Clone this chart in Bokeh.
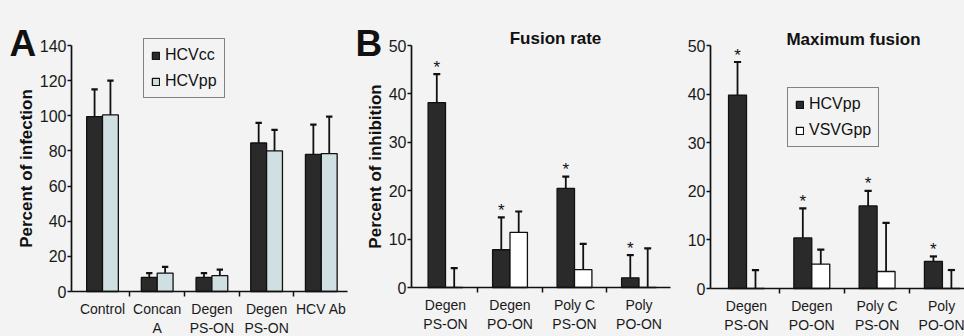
from bokeh.plotting import figure
from bokeh.layouts import row
from bokeh.models import FixedTicker, Legend, LegendItem, Label, Range1d
from bokeh.embed import file_html
from bokeh.resources import INLINE
from bokeh.core.properties import value

# ---------------- data ----------------
# Panel A: percent of infection
a_categories = ["Control", "Concan\nA", "Degen\nPS-ON", "Degen\nPS-ON", "HCV Ab"]
a_hcvcc = [99.5, 8.0, 8.0, 84.5, 78.0]
a_hcvcc_err = [115.0, 10.5, 10.5, 96.0, 95.0]
a_hcvpp = [100.5, 10.5, 9.0, 80.0, 78.5]
a_hcvpp_err = [120.0, 14.0, 12.5, 92.0, 99.5]
a_yticks = [0, 20, 40, 60, 80, 100, 120, 140]

# Panels B and C: percent of inhibition
bc_categories = ["Degen\nPS-ON", "Degen\nPO-ON", "Poly C\nPS-ON", "Poly\nPO-ON"]
b_hcvpp = [38.2, 7.8, 20.5, 2.0]
b_hcvpp_err = [44.1, 14.5, 22.9, 6.7]
b_vsvg = [0.0, 11.4, 3.7, 0.0]
b_vsvg_err = [4.0, 15.7, 9.0, 8.1]
b_stars = [True, True, True, True]

c_hcvpp = [39.8, 10.4, 17.0, 5.6]
c_hcvpp_err = [46.6, 16.5, 20.1, 6.6]
c_vsvg = [0.0, 5.0, 3.5, 0.0]
c_vsvg_err = [3.8, 8.0, 13.5, 3.8]
c_stars = [True, True, True, True]
bc_yticks = [0, 10, 20, 30, 40, 50]

FONT = "Liberation Sans"
BG = "#f3f3f3"
INK = "#111111"
DARK = "#2a2a2a"
LIGHT = "#cfdfe2"
WHITE = "#ffffff"
H = 336


def make_panel(width, geom, ymax, yticks, categories, series, bar_w,
               ylabel=None, ylabel_standoff=4, stars=None, star_series=0):
    axis_px, c0_px, step_px, y0_px, ytop_px, xend_px = geom
    k = (y0_px - ytop_px) / ymax
    xr = Range1d(-c0_px / step_px, (width - c0_px) / step_px)
    yr = Range1d(-(H - y0_px) / k, y0_px / k)
    yaxis_loc = (axis_px - c0_px) / step_px
    xaxis_end = (xend_px - c0_px) / step_px

    p = figure(width=width, height=H, x_range=xr, y_range=yr,
               output_backend="svg", toolbar_location=None,
               min_border_left=0, min_border_right=0,
               min_border_top=0, min_border_bottom=0)
    p.background_fill_color = BG
    p.border_fill_color = BG
    p.outline_line_color = None
    p.xgrid.visible = False
    p.ygrid.visible = False

    n = len(categories)
    centers = list(range(n))
    renderers = []
    ns = len(series)
    for kk, (vals, errs, color) in enumerate(series):
        xs = [c + (kk - (ns - 1) / 2) * bar_w for c in centers]
        r = p.vbar(x=xs, top=vals, bottom=0, width=bar_w, fill_color=color,
                   line_color=INK, line_width=1.3)
        renderers.append(r)
        cap = bar_w * 0.2
        p.segment(x0=xs, y0=vals, x1=xs, y1=errs, line_color=INK,
                  line_width=1.8)
        p.segment(x0=[x - cap for x in xs], y0=errs,
                  x1=[x + cap for x in xs], y1=errs,
                  line_color=INK, line_width=2.2)
        if stars is not None and kk == star_series:
            sx = [x for x, s in zip(xs, stars) if s]
            sy = [e for e, s in zip(errs, stars) if s]
            p.text(x=sx, y=sy, text=["*"] * len(sx), text_align="center",
                   text_baseline="alphabetic", y_offset=-7,
                   text_font=value(FONT), text_font_size="17px",
                   text_color=INK)

    # x axis (drawn at y = 0)
    xa = p.xaxis[0]
    xa.fixed_location = 0
    xa.bounds = (yaxis_loc, xaxis_end)
    xa.ticker = FixedTicker(ticks=centers,
                            minor_ticks=[c + 0.5 for c in centers[:-1]])
    xa.major_label_overrides = {i: categories[i] for i in centers}
    xa.major_tick_out = 0
    xa.major_tick_in = 0
    xa.minor_tick_out = 5
    xa.minor_tick_in = 0
    xa.minor_tick_line_color = INK
    xa.minor_tick_line_width = 1.5
    xa.axis_line_color = INK
    xa.axis_line_width = 1.7
    xa.major_label_text_font = FONT
    xa.major_label_text_font_size = "14px"
    xa.major_label_text_color = "#1a1a1a"
    xa.major_label_standoff = 4

    # y axis
    ya = p.yaxis[0]
    ya.fixed_location = yaxis_loc
    ya.bounds = (0, ymax)
    ya.ticker = FixedTicker(ticks=yticks)
    ya.minor_tick_line_color = None
    ya.major_tick_out = 4
    ya.major_tick_in = 0
    ya.major_tick_line_color = INK
    ya.major_tick_line_width = 1.5
    ya.axis_line_color = INK
    ya.axis_line_width = 1.7
    ya.major_label_text_font = FONT
    ya.major_label_text_font_size = "16px"
    ya.major_label_text_color = "#1a1a1a"
    ya.major_label_standoff = 1
    if ylabel:
        ya.axis_label = ylabel
        ya.axis_label_text_font = FONT
        ya.axis_label_text_font_size = "17px"
        ya.axis_label_text_font_style = "bold"
        ya.axis_label_text_color = INK
        ya.axis_label_standoff = ylabel_standoff
    return p, renderers


def add_legend(p, renderers, labels, left_px, bottom_px):
    items = [LegendItem(label=l, renderers=[r]) for l, r in zip(labels, renderers)]
    lg = Legend(items=items, location=(left_px, H - bottom_px))
    lg.label_text_font = FONT
    lg.label_text_font_size = "16px"
    lg.label_text_color = INK
    lg.glyph_width = 9
    lg.glyph_height = 9
    lg.label_height = 18
    lg.label_standoff = 5
    lg.spacing = 8
    lg.padding = 7
    lg.margin = 0
    lg.border_line_color = INK
    lg.border_line_width = 1.4
    lg.background_fill_color = BG
    lg.background_fill_alpha = 1.0
    p.add_layout(lg, "center")


def add_text(p, x_px, baseline_px, text, size, align="left"):
    p.add_layout(Label(x=x_px, y=H - baseline_px, x_units="screen",
                       y_units="screen", text=text, text_font=FONT,
                       text_font_size=size, text_font_style="bold",
                       text_align=align, text_baseline="alphabetic",
                       text_color=INK))


# ---------------- Panel A ----------------
pA, rA = make_panel(
    350, (71, 102, 54.7, 291, 45, 347), 140, a_yticks, a_categories,
    [(a_hcvcc, a_hcvcc_err, DARK), (a_hcvpp, a_hcvpp_err, LIGHT)],
    0.29, ylabel="Percent of infection", ylabel_standoff=1)
add_legend(pA, rA, ["HCVcc", "HCVpp"], 143, 98)
add_text(pA, 9, 43, "A", "37px")

# ---------------- Panel B ----------------
pB, rB = make_panel(
    330, (61, 95, 64.5, 287, 45, 320), 50, bc_yticks, bc_categories,
    [(b_hcvpp, b_hcvpp_err, DARK), (b_vsvg, b_vsvg_err, WHITE)],
    0.27, ylabel="Percent of inhibition", ylabel_standoff=1, stars=b_stars)
add_text(pB, 5, 43, "B", "37px")
add_text(pB, 205, 38, "Fusion rate", "17px", align="center")

# ---------------- Panel C ----------------
pC, rC = make_panel(
    284, (30, 66, 65.3, 288, 45, 284), 50, bc_yticks, bc_categories,
    [(c_hcvpp, c_hcvpp_err, DARK), (c_vsvg, c_vsvg_err, WHITE)],
    0.275, stars=c_stars)
add_legend(pC, rC, ["HCVpp", "VSVGpp"], 107, 147)
add_text(pC, 173, 39, "Maximum fusion", "17px", align="center")

layout = row(pA, pB, pC, spacing=0)
layout.styles = {"background-color": BG}

open("out.html", "w").write(file_html(layout, INLINE))
